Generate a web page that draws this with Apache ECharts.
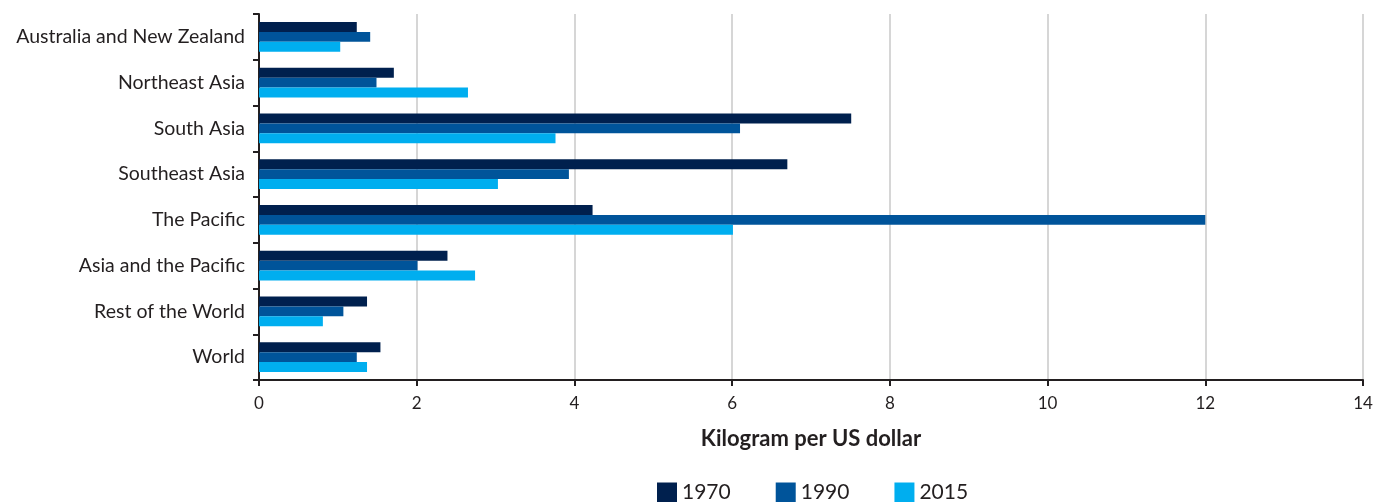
<!DOCTYPE html>
<html>
<head>
<meta charset="utf-8">
<script src="https://cdn.jsdelivr.net/npm/echarts@6/dist/echarts.min.js"></script>
<style>
  html, body { margin: 0; padding: 0; background: #fff; }
  #chart { width: 1373px; height: 502px; }
</style>
</head>
<body>
<div id="chart"></div>
<script>
// regions, top to bottom
const regions = ['Australia and New Zealand', 'Northeast Asia', 'South Asia', 'Southeast Asia',
  'The Pacific', 'Asia and the Pacific', 'Rest of the World', 'World']
const years = ['1970', '1990', '2015']
const v1970 = [1.24, 1.71, 7.51, 6.70, 4.23, 2.39, 1.37, 1.54]
const v1990 = [1.41, 1.49, 6.10, 3.93, 12.0, 2.01, 1.07, 1.24]
const v2015 = [1.03, 2.65, 3.76, 3.03, 6.01, 2.74, 0.81, 1.37]
const colors = ['#00204e', '#00549a', '#00aeef']

const font = 'Lato, "Open Sans", sans-serif'
const chart = echarts.init(document.getElementById('chart'))

const values = [v1970, v1990, v2015]
const series = years.map((y, i) => ({
  name: y,
  type: 'bar',
  data: values[i],
  barGap: '0%',
  barCategoryGap: '35%',
  itemStyle: { color: colors[i] },
}))

chart.setOption({
  animation: false,
  textStyle: { fontFamily: font },
  color: colors,
  grid: { left: 259, right: 10, top: 14, bottom: 122, containLabel: false, outerBoundsMode: 'none' },
  legend: {
    data: years,
    top: 482,
    left: 657,
    padding: 0,
    icon: 'rect',
    itemWidth: 20,
    itemHeight: 20,
    itemGap: 45,
    textStyle: { fontSize: 21, color: '#231f20', fontFamily: font },
  },
  xAxis: {
    type: 'value',
    min: 0,
    max: 14,
    interval: 2,
    name: 'Kilogram per US dollar',
    nameLocation: 'middle',
    nameGap: 48,
    nameTextStyle: { fontSize: 22, fontWeight: 'bold', color: '#231f20' },
    axisLine: { show: true, lineStyle: { color: '#231f20', width: 2 } },
    axisTick: { show: true, length: 6, lineStyle: { color: '#231f20', width: 2 } },
    axisLabel: { fontSize: 17, color: '#231f20', margin: 15 },
    splitLine: { show: true, lineStyle: { color: '#c8c8c8', width: 1.5 } },
  },
  yAxis: {
    type: 'category',
    data: regions,
    inverse: true,
    axisLine: { show: true, lineStyle: { color: '#231f20', width: 2 } },
    axisTick: { show: true, length: 6, lineStyle: { color: '#231f20', width: 2 } },
    axisLabel: { fontSize: 19.5, color: '#231f20', margin: 14 },
    splitLine: { show: false },
  },
  series: series,
})
</script>
</body>
</html>
